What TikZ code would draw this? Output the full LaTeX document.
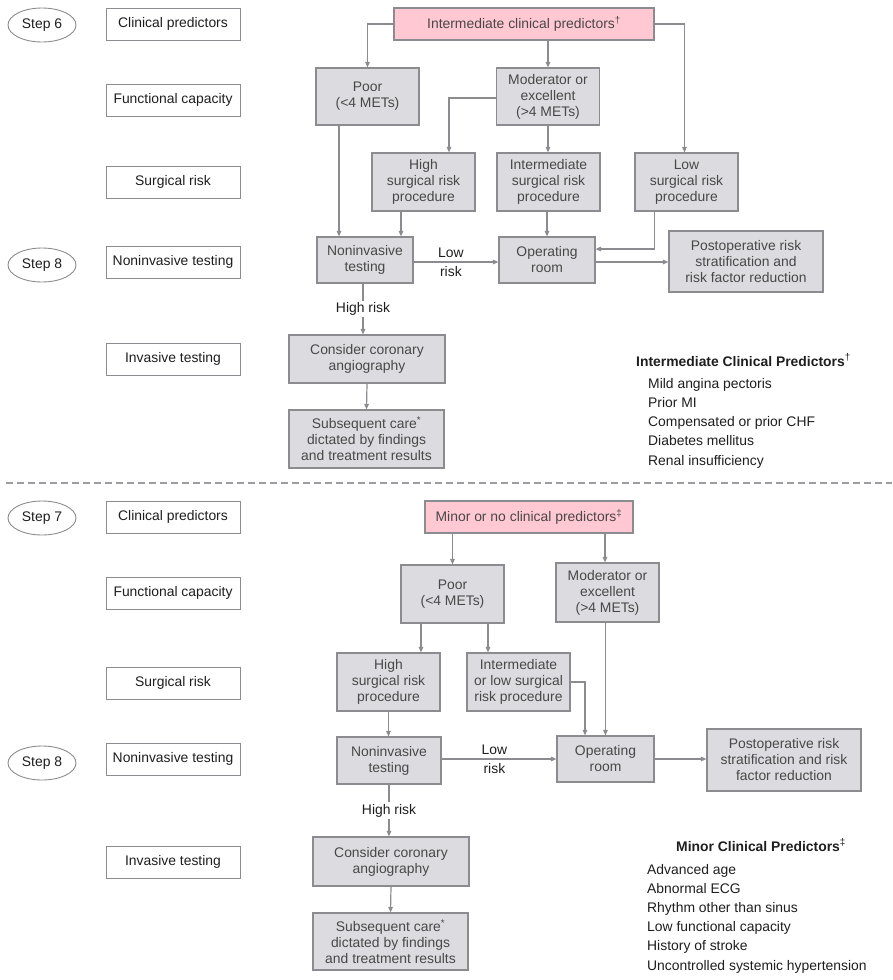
\documentclass[tikz,border=0pt]{standalone}
\usepackage{fontspec}
\setmainfont{Liberation Sans}
\usetikzlibrary{shapes.geometric,arrows.meta}
\definecolor{boxgray}{HTML}{DCDCE0}
\definecolor{linegray}{HTML}{8C8C90}
\definecolor{pinkfill}{HTML}{FFC8D2}
\definecolor{boxtext}{HTML}{484848}
\definecolor{labeltext}{HTML}{1E1E1E}

\begin{document}
\begin{tikzpicture}[x=1pt,y=-1pt,font=\fontsize{13.9}{16}\selectfont,
  stepmark/.style={ellipse,draw=linegray,line width=0.9pt,text=labeltext,minimum width=68pt,minimum height=34pt,inner sep=0pt},
  rowlabel/.style={draw=linegray,line width=0.9pt,text=labeltext,minimum width=134pt,minimum height=32pt,inner sep=0pt},
  choice/.style={draw=linegray,fill=boxgray,line width=1.1pt,text=boxtext,align=center,minimum width=103pt,minimum height=58pt,inner sep=0pt},
  predictor/.style={draw=linegray,fill=pinkfill,line width=1.1pt,text=boxtext,minimum height=32pt,inner sep=0pt},
  arr/.style={draw=linegray,line width=1.2pt,-{Triangle[width=4.5pt,length=5.5pt]}},
  risklabel/.style={text=labeltext,inner sep=3.5pt},
  listitem/.style={text=labeltext,anchor=base west,inner sep=0pt},
  sepline/.style={draw=linegray!85,line width=2pt,dash pattern=on 7pt off 4pt}]
  \useasboundingbox (0,0) rectangle (892,980);

  % intermediate clinical predictors
  \node[stepmark] (s6) at (42,25) {Step 6};
  \node[rowlabel] (lclin6) at (173,24) {Clinical predictors};
  \node[rowlabel] (lfunc6) at (173,100) {Functional capacity};
  \node[rowlabel] (lsurg6) at (173,182) {Surgical risk};
  \node[stepmark] (s8a) at (42,265) {Step 8};
  \node[rowlabel] (lnon6) at (173,262) {Noninvasive testing};
  \node[rowlabel] (linv6) at (173,359) {Invasive testing};

  \node[predictor,minimum width=260pt] (clin6) at (524,24) {Intermediate clinical predictors\textsuperscript{\dag}};
  \node[choice,minimum height=57pt] (poor6) at (367.5,96.5) {Poor\\(<4 METs)};
  \node[choice,minimum height=57pt] (mod6) at (548,96.5) {Moderator or\\excellent\\(>4 METs)};
  \node[choice] (high6) at (423.5,182) {High\\surgical risk\\procedure};
  \node[choice] (int6) at (548.5,182) {Intermediate\\surgical risk\\procedure};
  \node[choice] (low6) at (686.5,182) {Low\\surgical risk\\procedure};
  \node[choice,minimum width=96pt,minimum height=46pt] (non6) at (365,260) {Noninvasive\\testing};
  \node[choice,minimum width=96pt,minimum height=46pt] (or6) at (547,260) {Operating\\room};
  \node[choice,minimum width=154pt,minimum height=61pt] (post6) at (746,261.5) {Postoperative risk\\stratification and\\risk factor reduction};
  \node[choice,minimum width=156pt,minimum height=48pt] (cor6) at (367,359) {Consider coronary\\angiography};
  \node[choice,minimum width=155pt,minimum height=58pt] (care6) at (366.5,439) {Subsequent care\textsuperscript{*}\\dictated by findings\\and treatment results};

  \coordinate (p6) at ([xshift=-26pt]non6.north);
  \coordinate (h6) at ([xshift=36pt]non6.north);
  \coordinate (l6) at ([xshift=-32pt]low6.south);
  \draw[arr] (clin6.west) -| (poor6.north);
  \draw[arr] (mod6.north |- clin6.south) -- (mod6.north);
  \draw[arr] (clin6.east) -| ([xshift=-2pt]low6.north);
  \draw[arr] ([yshift=-1.5pt]mod6.west) -| ([xshift=25.5pt]high6.north);
  \draw[arr] (mod6.south) -- (int6.north -| mod6.south);
  \draw[arr] (poor6.south -| p6) -- (p6);
  \draw[arr] (high6.south -| h6) -- (h6);
  \draw[arr] ([yshift=-2pt]non6.east) -- ([yshift=-2pt]or6.west)
    node[risklabel,pos=0.44,above] {Low} node[risklabel,pos=0.44,below] {risk};
  \draw[arr] (l6) |- ([yshift=11pt]or6.east);
  \draw[arr] (or6.north |- int6.south) -- (or6.north);
  \draw[arr] ([yshift=-2pt]or6.east) -- ([yshift=-2pt]or6.east -| post6.west);
  \draw[arr] ([xshift=-2pt]non6.south) -- ([xshift=-2pt]non6.south |- cor6.north)
    node[risklabel,midway,fill=white,inner sep=2pt] {High risk};
  \draw[arr] (cor6.south) -- (care6.north);

  \node[text=labeltext,anchor=base west,inner sep=0pt] (ihead) at (636,366) {\textbf{Intermediate Clinical Predictors}\textsuperscript{\dag}};
  \foreach \txt [count=\i] in {Mild angina pectoris,Prior MI,Compensated or prior CHF,Diabetes mellitus,Renal insufficiency}
    \node[listitem] (ip\i) at (648,{388+19.25*(\i-1)}) {\txt};

  % separator
  \coordinate (sepL) at (6,483);
  \coordinate (sepR) at (892,483);
  \draw[sepline] (sepL) -- (sepR);

  % minor or no clinical predictors
  \node[stepmark] (s7) at (42,518) {Step 7};
  \node[rowlabel] (lclin7) at (173,517) {Clinical predictors};
  \node[rowlabel] (lfunc7) at (173,593) {Functional capacity};
  \node[rowlabel] (lsurg7) at (173,683) {Surgical risk};
  \node[stepmark] (s8b) at (42,763) {Step 8};
  \node[rowlabel] (lnon7) at (173,759) {Noninvasive testing};
  \node[rowlabel] (linv7) at (173,862) {Invasive testing};

  \node[predictor,minimum width=208pt] (clin7) at (529,517) {Minor or no clinical predictors\textsuperscript{\ddag}};
  \node[choice] (poor7) at (452.5,594) {Poor\\(<4 METs)};
  \node[choice,minimum height=59pt] (mod7) at (607.5,592.5) {Moderator or\\excellent\\(>4 METs)};
  \node[choice] (high7) at (388.5,682) {High\\surgical risk\\procedure};
  \node[choice] (int7) at (518.5,682) {Intermediate\\or low surgical\\risk procedure};
  \node[choice,minimum width=104pt,minimum height=47pt] (non7) at (389,760.5) {Noninvasive\\testing};
  \node[choice,minimum width=97pt,minimum height=46pt] (or7) at (605.5,759) {Operating\\room};
  \node[choice,minimum width=154pt,minimum height=62pt] (post7) at (784,760) {Postoperative risk\\stratification and risk\\factor reduction};
  \node[choice,minimum width=156pt,minimum height=49pt] (cor7) at (391,861.5) {Consider coronary\\angiography};
  \node[choice,minimum width=155pt,minimum height=57pt] (care7) at (390.5,941.5) {Subsequent care\textsuperscript{*}\\dictated by findings\\and treatment results};

  \coordinate (hp7) at ([xshift=32.5pt]high7.north);
  \coordinate (ip7) at ([xshift=-30.5pt]int7.north);
  \draw[arr] (poor7.north |- clin7.south) -- (poor7.north);
  \draw[arr] ([xshift=-2.5pt]mod7.north |- clin7.south) -- ([xshift=-2.5pt]mod7.north);
  \draw[arr] (poor7.south -| hp7) -- (hp7);
  \draw[arr] (poor7.south -| ip7) -- (ip7);
  \draw[arr] (int7.east) -| ([xshift=-20.5pt]or7.north);
  \draw[arr] (mod7.south -| or7.north) -- (or7.north);
  \draw[arr] (high7.south) -- (non7.north -| high7.south);
  \draw[arr] (non7.east |- or7.east) -- (or7.west)
    node[risklabel,pos=0.46,above] {Low} node[risklabel,pos=0.46,below] {risk};
  \draw[arr] (or7.east) -- (or7.east -| post7.west);
  \draw[arr] (non7.south) -- (non7.south |- cor7.north)
    node[risklabel,midway,fill=white,inner sep=2pt] {High risk};
  \draw[arr] (cor7.south) -- (care7.north);

  \node[text=labeltext,anchor=base west,inner sep=0pt] (mhead) at (676,851) {\textbf{Minor Clinical Predictors}\textsuperscript{\ddag}};
  \foreach \txt [count=\i] in {Advanced age,Abnormal ECG,Rhythm other than sinus,Low functional capacity,History of stroke,Uncontrolled systemic hypertension}
    \node[listitem] (mp\i) at (647,{874+19.2*(\i-1)}) {\txt};
\end{tikzpicture}
\end{document}
